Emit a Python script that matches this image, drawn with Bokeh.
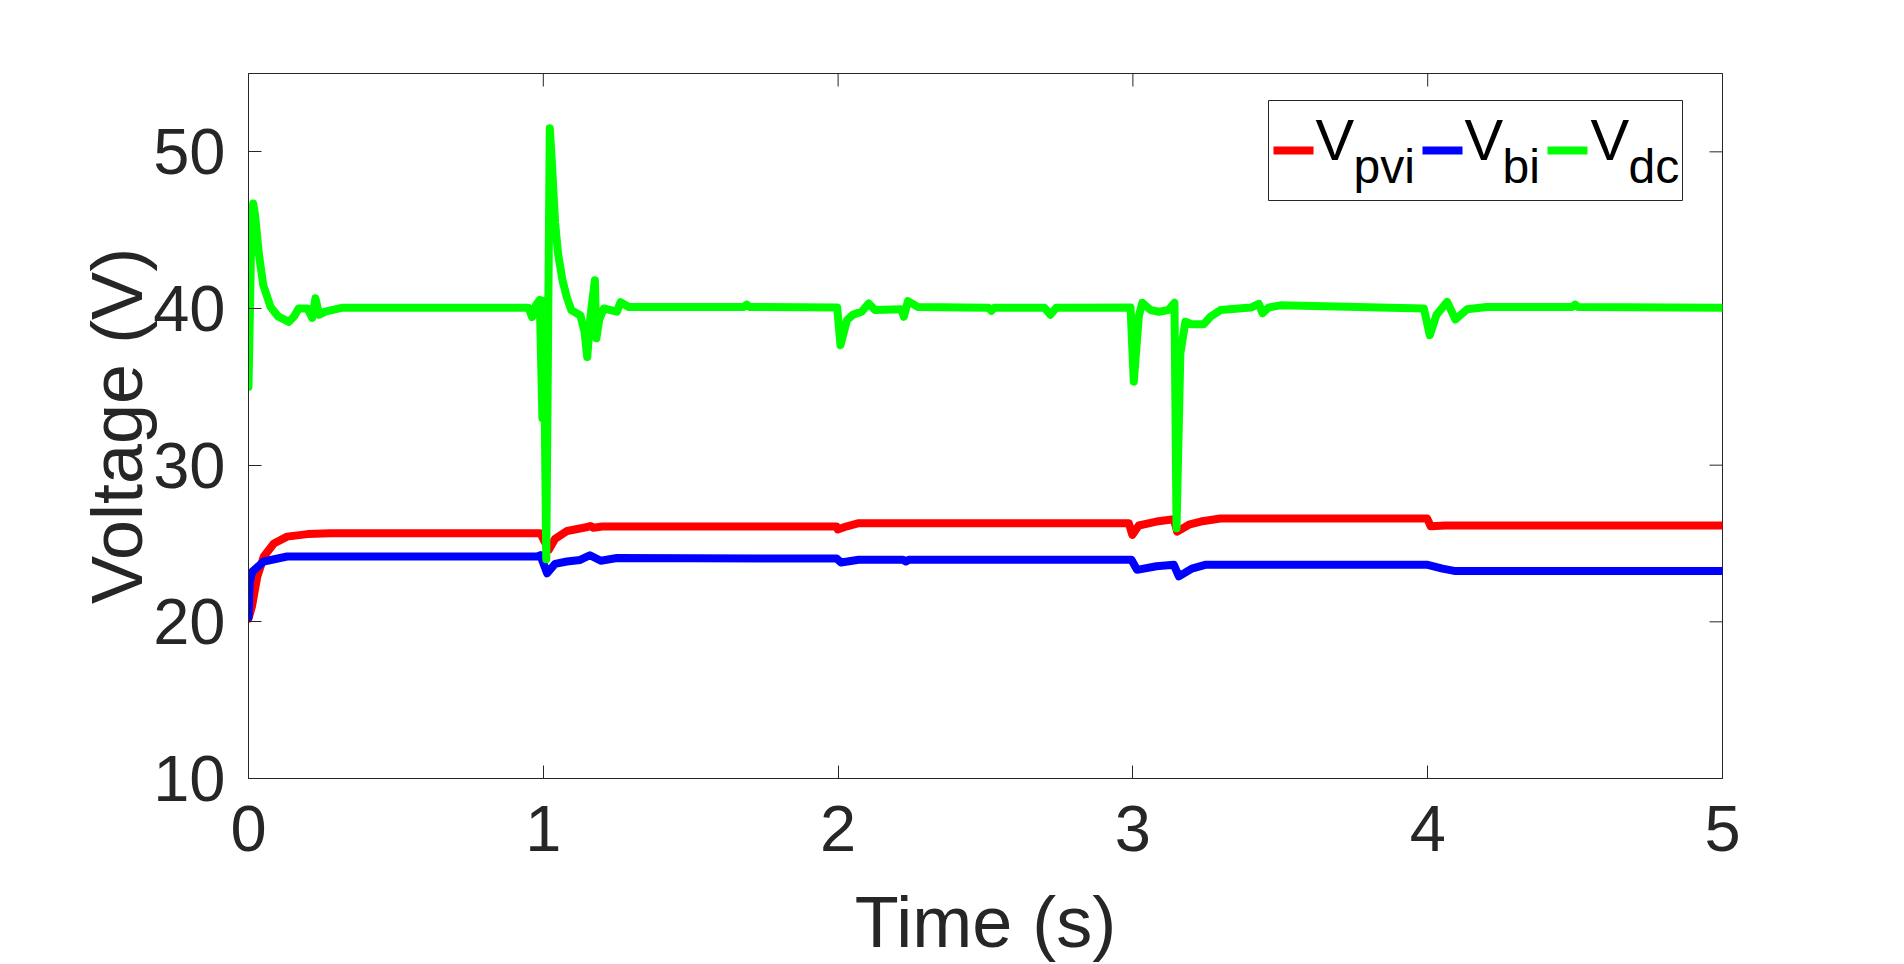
import math
from bokeh.plotting import figure
from bokeh.models import Range1d, FixedTicker, Label, BoxAnnotation
from bokeh.embed import file_html
from bokeh.resources import INLINE

# ---------------- data ----------------
t_pvi = [0.000, 0.012, 0.030, 0.052, 0.086, 0.131, 0.200, 0.278, 0.990, 1.005, 1.019, 1.040,
         1.081, 1.150, 1.160, 1.170, 1.200, 1.995, 1.999, 2.030, 2.070, 2.986, 2.998, 3.020,
         3.080, 3.139, 3.150, 3.190, 3.230, 3.297, 3.998, 4.010, 4.060, 5.000]
v_pvi = [20.2, 21.0, 22.9, 24.17, 25.0, 25.44, 25.6, 25.66, 25.66, 25.1, 24.6, 25.3,
         25.8, 26.05, 26.12, 26.0, 26.08, 26.08, 25.9, 26.1, 26.3, 26.3, 25.55, 26.15,
         26.4, 26.55, 25.76, 26.2, 26.4, 26.6, 26.6, 26.1, 26.15, 26.15]

t_bi = [0.000, 0.004, 0.0125, 0.052, 0.131, 0.979, 0.990, 1.013, 1.040, 1.080, 1.125, 1.158,
        1.195, 1.250, 1.995, 2.010, 2.070, 2.220, 2.230, 2.240, 2.995, 3.014, 3.080, 3.139,
        3.156, 3.200, 3.245, 4.000, 4.050, 4.090, 5.000]
v_bi = [20.3, 22.5, 23.2, 23.85, 24.17, 24.17, 24.25, 23.1, 23.7, 23.85, 23.95, 24.25,
        23.9, 24.07, 24.04, 23.79, 23.96, 23.96, 23.85, 23.96, 23.96, 23.32, 23.55, 23.64,
        22.9, 23.4, 23.64, 23.64, 23.4, 23.25, 23.25]

t_dc = [0.000, 0.005, 0.010, 0.016, 0.022, 0.035, 0.050, 0.075, 0.100, 0.137, 0.155, 0.170,
        0.200, 0.216, 0.227, 0.240, 0.260, 0.320, 0.950, 0.962, 0.975, 0.988, 0.997, 1.001,
        1.010, 1.022, 1.030, 1.040, 1.050, 1.065, 1.080, 1.095, 1.126, 1.140,
        1.149, 1.160, 1.175, 1.180, 1.190, 1.205, 1.250, 1.262, 1.290, 1.680, 1.690, 1.700,
        1.997, 2.008, 2.030, 2.050, 2.080, 2.104, 2.125, 2.215, 2.223, 2.237, 2.270, 2.510,
        2.520, 2.530, 2.700, 2.720, 2.740, 2.992, 3.003, 3.020, 3.032, 3.060, 3.088, 3.120,
        3.141, 3.148, 3.161, 3.178, 3.200, 3.240, 3.263, 3.297, 3.400, 3.427, 3.440, 3.460,
        3.500, 3.987, 4.007, 4.030, 4.066, 4.094, 4.134, 4.200, 4.490, 4.500, 4.510, 5.000]
v_dc = [35.0, 40.0, 45.5, 46.7, 46.0, 43.5, 41.5, 40.1, 39.5, 39.15, 39.5, 40.0,
        40.0, 39.4, 40.65, 39.6, 39.8, 40.05, 40.05, 39.45, 40.2, 40.55, 33.0, 40.5,
        24.0, 51.5, 49.0, 45.5, 43.5, 41.8, 40.7, 39.9, 39.55, 38.5,
        36.9, 39.5, 41.8, 38.1, 39.3, 40.0, 39.8, 40.4, 40.1, 40.1, 40.25, 40.1,
        40.06, 37.66, 39.25, 39.6, 39.8, 40.32, 39.9, 39.95, 39.47, 40.47, 40.1, 40.05,
        39.85, 40.05, 40.05, 39.6, 40.05, 40.06, 35.33, 39.5, 40.36, 39.9, 39.79, 39.9,
        40.36, 25.98, 37.13, 39.15, 39.0, 39.0, 39.47, 39.9, 40.06, 40.3, 39.7, 40.06,
        40.2, 40.0, 38.3, 39.6, 40.42, 39.3, 39.95, 40.1, 40.1, 40.25, 40.1, 40.05]

x_ticks = [0, 1, 2, 3, 4, 5]
y_ticks = [10, 20, 30, 40, 50]
x_lim = (0, 5)
y_lim = (10, 55)
x_title = "Time (s)"
y_title = "Voltage (V)"

series = [
    ("pvi", t_pvi, v_pvi, "#FF0000"),
    ("bi", t_bi, v_bi, "#0000FF"),
    ("dc", t_dc, v_dc, "#00FF00"),
]

# ---------------- figure ----------------
W, H = 1888, 964
p = figure(width=W, height=H, output_backend="svg", toolbar_location=None,
           x_range=Range1d(*x_lim), y_range=Range1d(*y_lim),
           min_border_left=248, min_border_right=166,
           min_border_top=73, min_border_bottom=185)
p.background_fill_color = "white"
p.border_fill_color = "white"
p.outline_line_color = "#262626"
p.outline_line_width = 1
p.grid.visible = False

AX = "#262626"
FONT = "Liberation Sans"

xa = p.xaxis[0]
ya = p.yaxis[0]
xa.ticker = FixedTicker(ticks=x_ticks)
ya.ticker = FixedTicker(ticks=y_ticks)
for ax in (xa, ya):
    ax.axis_line_color = AX
    ax.major_tick_line_color = AX
    ax.major_tick_in = 13
    ax.major_tick_out = 0
    ax.minor_tick_line_color = None
    ax.major_label_text_font = FONT
    ax.major_label_text_font_size = "65px"
    ax.major_label_text_color = AX
    ax.axis_label_text_font = FONT
    ax.axis_label_text_font_size = "72px"
    ax.axis_label_text_color = AX
    ax.axis_label_text_font_style = "normal"

xa.axis_label = x_title
ya.axis_label = y_title
xa.major_label_standoff = 27
xa.axis_label_standoff = 28
ya.major_label_standoff = 23
ya.axis_label_standoff = -7

# inward ticks on the top and right edges of the box (from the tick arrays)
p.ray(x=x_ticks, y=[y_lim[1]] * len(x_ticks), length=13, length_units="screen",
      angle=-math.pi / 2, line_color=AX, line_width=1)
p.ray(x=[x_lim[1]] * len(y_ticks), y=y_ticks, length=13, length_units="screen",
      angle=math.pi, line_color=AX, line_width=1)

for name, t, v, c in series:
    p.line(t, v, line_color=c, line_width=8, line_join="round", line_cap="round")

# ---------------- legend (custom, to allow subscripts) ----------------
p.add_layout(BoxAnnotation(left=1020, right=1434, bottom=578, top=678,
                           left_units="screen", right_units="screen",
                           bottom_units="screen", top_units="screen",
                           fill_color="white", fill_alpha=1.0,
                           line_color=AX, line_alpha=1.0, line_width=1))
leg_pos = [(1025, 1067, 1105), (1174, 1216, 1254), (1299, 1342, 1380)]
for (name, t, v, c), (sx, vx, subx) in zip(series, leg_pos):
    p.add_layout(BoxAnnotation(left=sx, right=sx + 40, bottom=624, top=632,
                               left_units="screen", right_units="screen",
                               bottom_units="screen", top_units="screen",
                               fill_color=c, fill_alpha=1.0, line_color=None))
    p.add_layout(Label(x=vx, y=639, x_units="screen", y_units="screen", text="V",
                       text_font=FONT, text_font_size="58px", text_color="black",
                       text_baseline="alphabetic", text_align="left"))
    p.add_layout(Label(x=subx, y=612, x_units="screen", y_units="screen", text=name,
                       text_font=FONT, text_font_size="48px", text_color="black",
                       text_baseline="alphabetic", text_align="left"))

open("out.html", "w").write(file_html(p, INLINE))
